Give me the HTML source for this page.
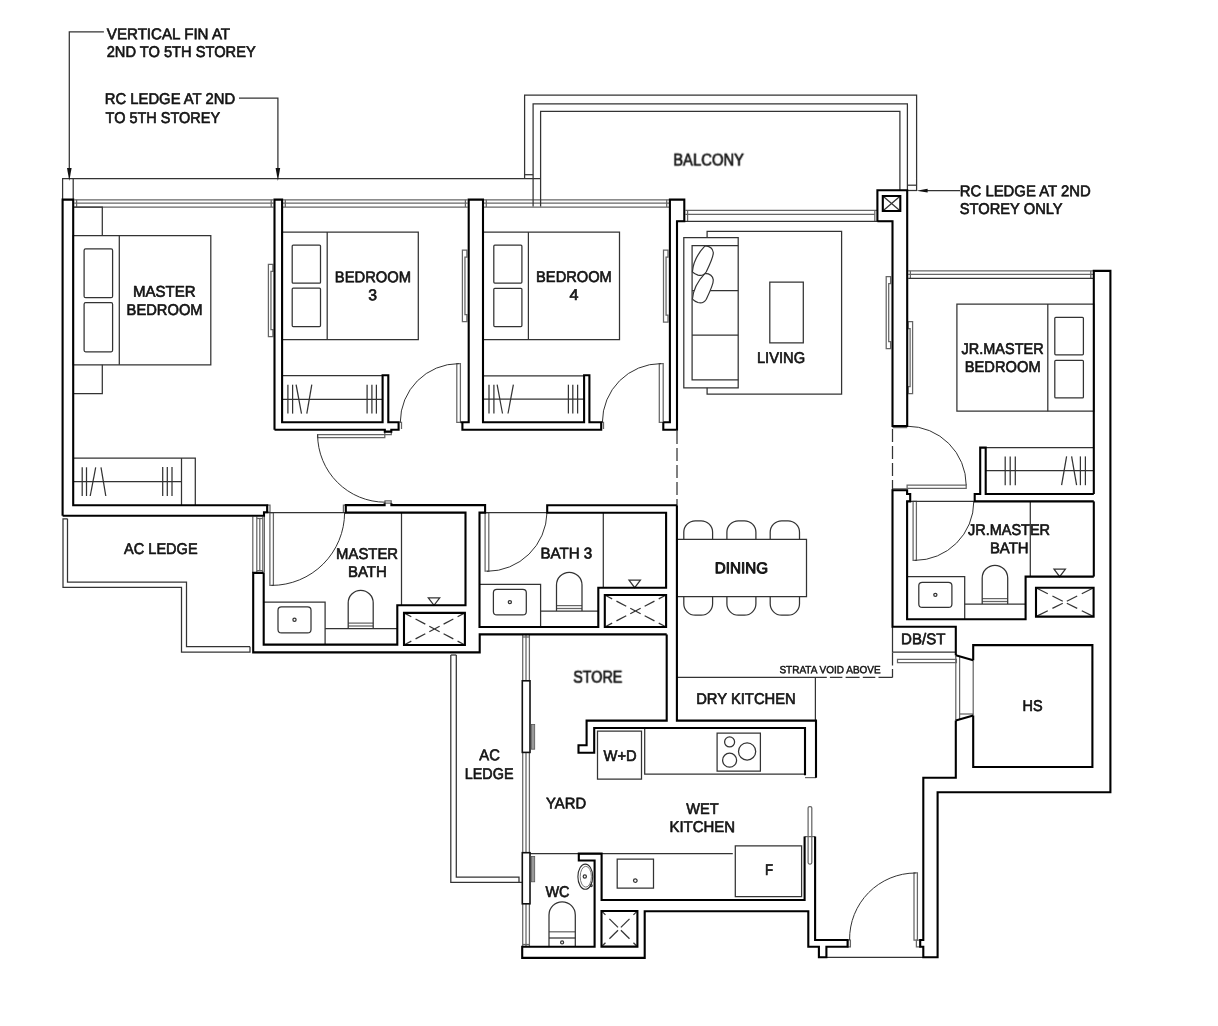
<!DOCTYPE html>
<html lang="en"><head><meta charset="utf-8"><title>Floor plan</title>
<style>html,body{margin:0;padding:0;background:#fff}svg{display:block}text{font-family:"Liberation Sans",sans-serif;font-weight:normal;fill:#141414;stroke:#141414;stroke-width:0.68px;stroke-linejoin:round}</style></head><body>
<svg width="1218" height="1026" viewBox="0 0 1218 1026">
<rect width="1218" height="1026" fill="#fff"/>
<g fill="none" stroke="#666" stroke-width="1.25">
<path d="M267.2,505.2H270V512.2H267.2Z"/>
<path d="M74.3,199.8H273.5"/>
<path d="M74.3,203.2H273.5"/>
<path d="M74.3,207H273.5"/>
<path d="M76.6,199.8V207"/>
<path d="M271.2,199.8V207"/>
<path d="M283,199.8H467.7"/>
<path d="M283,203.2H467.7"/>
<path d="M283,207H467.7"/>
<path d="M285.3,199.8V207"/>
<path d="M465.4,199.8V207"/>
<path d="M484,199.8H669"/>
<path d="M484,203.2H669"/>
<path d="M484,207H669"/>
<path d="M486.3,199.8V207"/>
<path d="M666.7,199.8V207"/>
<path d="M685.4,210.3H877.4"/>
<path d="M685.4,214.4H874.8"/>
<path d="M687.6,210.3V221.3"/>
<path d="M874.8,210.3V221.3"/>
<path d="M908.2,270.9H1093"/>
<path d="M908.2,274.4H1093"/>
<path d="M910.4,270.9V278.4"/>
<path d="M1090.8,270.9V278.4"/>
<path d="M272.9,264.4H268.4V336.5H272.9V329.5H270.95V271.4H272.9Z"/>
<path d="M466.9,250.1H462.4V321.6H466.9V314.6H464.95V257.1H466.9Z"/>
<path d="M668,250H663.5V322H668V315H666.05V257H668Z"/>
<path d="M890.6,276.6H886.2V348.6H890.6V341.6H888.7V283.6H890.6Z"/>
<path d="M908.2,321.5H912.6V393.7H908.2V386.7H910.1000000000001V328.5H908.2Z"/>
<path d="M317.6,434.5H384.8V437.6H317.6Z"/>
<path d="M384.8,431.6H391.3V434.5H384.8Z"/>
<path d="M385,500.8H391.2V503.2H385Z"/>
<path d="M269.9,512.5H273.4V585.3H269.9Z"/>
<path d="M343.4,512.5V505.1H345.8"/>
<path d="M485.1,512.6H488.8V571.2H485.1Z"/>
<path d="M456.8,363.6H460.4V422.3H456.8Z"/>
<path d="M399.4,422.3H401.5V429"/>
<path d="M659.3,363.6H663.2V422.3H659.3Z"/>
<path d="M601.2,422.3H603.5V429"/>
<path d="M907.1,485.2H966.2V488.3H907.1Z"/>
<path d="M892.5,427.6H907.2"/>
<path d="M892.5,488.8H907.2"/>
<path d="M913.1,501.4H916.4V560.3H913.1Z"/>
<path d="M914,872.9H917.4V940H914Z"/>
<path d="M847.6,940H850.4V946.8H847.6Z"/>
<path d="M916.4,940H920.2V946.8H916.4Z"/>
<path d="M252.8,516.5V572.9"/>
<path d="M256.8,516.5V572.9"/>
<path d="M259.8,518.5V570.6"/>
<path d="M262.8,516.5V572.9"/>
<path d="M264.4,516V572.9"/>
<path d="M256.8,518.5H262.8"/>
<path d="M256.8,570.6H262.8"/>
<path d="M348.2,623.1H373.2"/>
<path d="M348.2,626.0H373.2"/>
<path d="M556.5,605.6H582"/>
<path d="M556.5,608.5H582"/>
<path d="M982.2,598.6H1007.7"/>
<path d="M982.2,601.5H1007.7"/>
<path d="M897.5,659.4H956.4V662.6H897.5Z"/>
<path d="M955.8,655.2V720.6"/>
<path d="M959.6,657V719"/>
<path d="M973.2,660.2V715.6"/>
<path d="M959.6,714H973.2"/>
<path d="M805,777.6H816"/>
<path d="M809.6,806.6H810.3Q811.8,806.6 811.8,808.1V862.5Q811.8,864 810.3,864H809.6Q808.1,864 808.1,862.5V808.1Q808.1,806.6 809.6,806.6Z"/>
<path d="M804.6,836.6H815.1"/>
<path d="M522.7,635V946.8"/>
<path d="M526,635V946.8"/>
<path d="M529.4,635V946.8"/>
<path d="M522.7,637H529.4"/>
<path d="M522.7,944.5H529.4"/>
<path d="M549,931.8H575.3"/>
</g>
<g fill="none" stroke="#333" stroke-width="1.25">
<path d="M103.9,31.8H69.3V170"/>
<path d="M239,98.2H277.9V170"/>
<path d="M926,190.7H960"/>
<path d="M907.2,190.5H917"/>
<path d="M62.6,199.6V178.5H540.6"/>
<path d="M73.2,178.5V199.6"/>
<path d="M524.6,178.5V95H916.6V190.2"/>
<path d="M533.1,206.5V103.8H907.4V190.2"/>
<path d="M540.6,206.5V111.3H899.9V190.2"/>
<path d="M524.6,174.7H533.1"/>
<path d="M907.4,185.2H916.6"/>
<path d="M677,221.3H892.5"/>
<path d="M908.2,278.4H1093.8"/>
<path d="M73.2,235.6H210.8V364.8H73.2Z"/>
<path d="M119.3,235.6V364.8"/>
<path d="M85.6,248.9H111.1Q112.6,248.9 112.6,250.4V296.2Q112.6,297.7 111.1,297.7H85.6Q84.1,297.7 84.1,296.2V250.4Q84.1,248.9 85.6,248.9Z"/>
<path d="M85.6,302.7H111.1Q112.6,302.7 112.6,304.2V350.3Q112.6,351.8 111.1,351.8H85.6Q84.1,351.8 84.1,350.3V304.2Q84.1,302.7 85.6,302.7Z"/>
<path d="M73.2,207H102.3V235.6"/>
<path d="M73.2,393.6H102.3V364.8"/>
<path d="M282.1,232.1H418.3V339.5H282.1Z"/>
<path d="M327.2,232.1V339.5"/>
<path d="M293.2,245.1H319.5Q320.5,245.1 320.5,246.1V282.2Q320.5,283.2 319.5,283.2H293.2Q292.2,283.2 292.2,282.2V246.1Q292.2,245.1 293.2,245.1Z"/>
<path d="M293.2,288.2H319.5Q320.5,288.2 320.5,289.2V325.5Q320.5,326.5 319.5,326.5H293.2Q292.2,326.5 292.2,325.5V289.2Q292.2,288.2 293.2,288.2Z"/>
<path d="M483,232.1H619.5V339.5H483Z"/>
<path d="M528.4,232.1V339.5"/>
<path d="M494.8,245.2H520.9Q521.9,245.2 521.9,246.2V282Q521.9,283 520.9,283H494.8Q493.8,283 493.8,282V246.2Q493.8,245.2 494.8,245.2Z"/>
<path d="M494.8,288.3H520.9Q521.9,288.3 521.9,289.3V325.5Q521.9,326.5 520.9,326.5H494.8Q493.8,326.5 493.8,325.5V289.3Q493.8,288.3 494.8,288.3Z"/>
<path d="M956.9,304H1093.8V411.2H956.9Z"/>
<path d="M1047.8,304V411.2"/>
<path d="M1055.8,317.3H1082.4Q1083.4,317.3 1083.4,318.3V353.8Q1083.4,354.8 1082.4,354.8H1055.8Q1054.8,354.8 1054.8,353.8V318.3Q1054.8,317.3 1055.8,317.3Z"/>
<path d="M1055.8,360.3H1082.4Q1083.4,360.3 1083.4,361.3V396.9Q1083.4,397.9 1082.4,397.9H1055.8Q1054.8,397.9 1054.8,396.9V361.3Q1054.8,360.3 1055.8,360.3Z"/>
<path d="M73.2,458.1H195.3V505.2"/>
<path d="M181.5,458.1V505.2"/>
<path d="M73.2,481.6H181.5"/>
<path d="M82.2,467.3V496"/>
<path d="M86.5,467.3V496"/>
<path d="M90.2,496L95.7,467.3"/>
<path d="M101,467.3L105.8,496"/>
<path d="M162.7,467V496"/>
<path d="M167.3,467V496"/>
<path d="M172,467V496"/>
<path d="M282.1,375.7H382.6"/>
<path d="M282.1,399.3H382.6"/>
<path d="M287.9,384.7V413.6"/>
<path d="M292.6,384.7V413.6"/>
<path d="M296.1,384.7L301.5,413.6"/>
<path d="M311.8,384.7L306.8,413.6"/>
<path d="M367.1,384.7V413.6"/>
<path d="M371.9,384.7V413.6"/>
<path d="M376.4,384.7V413.6"/>
<path d="M483,375.8H584.1"/>
<path d="M483,399.1H584.1"/>
<path d="M489,384.7V413.5"/>
<path d="M493.9,384.7V413.5"/>
<path d="M497.1,384.7L502.5,413.5"/>
<path d="M513.4,384.7L508,413.5"/>
<path d="M568.4,384.7V413.5"/>
<path d="M572.8,384.7V413.5"/>
<path d="M577.6,384.7V413.5"/>
<path d="M985.7,447.6H1093.8"/>
<path d="M985.7,470.6H1093.8"/>
<path d="M1005.2,456.4V485.2"/>
<path d="M1010.2,456.4V485.2"/>
<path d="M1015.3,456.4V485.2"/>
<path d="M1061.6,485.2L1066.6,456.4"/>
<path d="M1071.6,456.4L1076.6,485.2"/>
<path d="M1080.4,456.4V485.2"/>
<path d="M1085.4,456.4V485.2"/>
<path d="M317.6,434.5A67.7,67.7 0 0 0 385.3,502.2" stroke-width="1"/>
<path d="M271.6,585.4A73,73 0 0 0 344.6,512.5" stroke-width="1"/>
<path d="M263.7,512.5H345.8"/>
<path d="M487,571.3A60,60 0 0 0 547,512.6" stroke-width="1"/>
<path d="M479.5,512.6H547.2"/>
<path d="M458.8,363.6A58.6,58.6 0 0 0 400.3,422.3" stroke-width="1"/>
<path d="M661,363.6A58.6,58.6 0 0 0 602.4,422.3" stroke-width="1"/>
<path d="M966.2,485.2A59.2,59.2 0 0 0 907.1,426.2" stroke-width="1"/>
<path d="M914.8,560.4A59,59 0 0 0 973.8,501.4" stroke-width="1"/>
<path d="M907.1,501.4H974.7"/>
<path d="M915.6,873A66,66 0 0 0 849.6,940" stroke-width="1"/>
<path d="M826.4,957.3H923.3"/>
<path d="M67.5,518.8H63V587.3H181.5V652.2H250V646.7"/>
<path d="M67.5,518.8V582H186.5V646.7H250"/>
<path d="M263.7,602H325.1V644.6"/>
<path d="M281.5,606.8H307.5Q311,606.8 311,610.3V629.4Q311,632.9 307.5,632.9H281.5Q278,632.9 278,629.4V610.3Q278,606.8 281.5,606.8Z"/>
<path d="M292.9,619.8499999999999a1.6,1.6 0 1 0 3.2,0a1.6,1.6 0 1 0 -3.2,0"/>
<path d="M479.5,584.3H540.6V627"/>
<path d="M496.9,589.3H522.8Q526.3,589.3 526.3,592.8V611.4Q526.3,614.9 522.8,614.9H496.9Q493.4,614.9 493.4,611.4V592.8Q493.4,589.3 496.9,589.3Z"/>
<path d="M508.24999999999994,602.0999999999999a1.6,1.6 0 1 0 3.2,0a1.6,1.6 0 1 0 -3.2,0"/>
<path d="M907.1,576.6H964.7V619.2"/>
<path d="M922.3,582.3H948.4Q951.9,582.3 951.9,585.8V603.9Q951.9,607.4 948.4,607.4H922.3Q918.8,607.4 918.8,603.9V585.8Q918.8,582.3 922.3,582.3Z"/>
<path d="M933.7499999999999,594.8499999999999a1.6,1.6 0 1 0 3.2,0a1.6,1.6 0 1 0 -3.2,0"/>
<path d="M348.2,628.6V602.8A12.5,12.5 0 0 1 373.2,602.8V628.6"/>
<path d="M325.1,628.6H397.3"/>
<path d="M556.5,611.1V585.05A12.75,12.75 0 0 1 582,585.05V611.1"/>
<path d="M540.6,611.1H598.3"/>
<path d="M982.2,604.1V578.05A12.75,12.75 0 0 1 1007.7,578.05V604.1"/>
<path d="M964.7,604.1H1025.6"/>
<path d="M401.5,512.6V605.3"/>
<path d="M603.3,512.7V587.7"/>
<path d="M1030.3,501.4V576.6"/>
<path d="M428.3,597.8H439.7L434,605.3Z"/>
<path d="M629,580.2H640.4L634.7,587.7Z"/>
<path d="M1054,569H1065.4L1059.7,576.6Z"/>
<path d="M434.45,628.95L429.2735,626.2215"/>
<path d="M425.315,624.135L415.57099999999997,618.999"/>
<path d="M411.308,616.752L404.9135,613.3815"/>
<path d="M434.45,628.95L439.62649999999996,626.2215"/>
<path d="M443.585,624.135L453.329,618.999"/>
<path d="M457.592,616.752L463.9865,613.3815"/>
<path d="M434.45,628.95L429.2735,631.6785"/>
<path d="M425.315,633.765L415.57099999999997,638.9010000000001"/>
<path d="M411.308,641.148L404.9135,644.5185"/>
<path d="M434.45,628.95L439.62649999999996,631.6785"/>
<path d="M443.585,633.765L453.329,638.9010000000001"/>
<path d="M457.592,641.148L463.9865,644.5185"/>
<path d="M635.45,611.0L630.2395,608.28"/>
<path d="M626.255,606.2L616.447,601.08"/>
<path d="M612.156,598.84L605.7194999999999,595.48"/>
<path d="M635.45,611.0L640.6605000000001,608.28"/>
<path d="M644.645,606.2L654.453,601.08"/>
<path d="M658.744,598.84L665.1805,595.48"/>
<path d="M635.45,611.0L630.2395,613.72"/>
<path d="M626.255,615.8L616.447,620.92"/>
<path d="M612.156,623.16L605.7194999999999,626.52"/>
<path d="M635.45,611.0L640.6605000000001,613.72"/>
<path d="M644.645,615.8L654.453,620.92"/>
<path d="M658.744,623.16L665.1805,626.52"/>
<path d="M1062.7839999999999,601.192L1052.416,596.008"/>
<path d="M1047.808,593.704L1036.864,588.232"/>
<path d="M1066.816,601.192L1077.184,596.008"/>
<path d="M1081.792,593.704L1092.7359999999999,588.232"/>
<path d="M1062.7839999999999,603.2080000000001L1052.416,608.392"/>
<path d="M1047.808,610.696L1036.864,616.168"/>
<path d="M1066.816,603.2080000000001L1077.184,608.392"/>
<path d="M1081.792,610.696L1092.7359999999999,616.168"/>
<path d="M618.014,927.376L609.398,918.832"/>
<path d="M605.449,914.9159999999999L602.3975,911.89"/>
<path d="M620.8860000000001,927.376L629.502,918.832"/>
<path d="M633.451,914.9159999999999L636.5024999999999,911.89"/>
<path d="M618.014,930.2239999999999L609.398,938.768"/>
<path d="M605.449,942.684L602.3975,945.71"/>
<path d="M620.8860000000001,930.2239999999999L629.502,938.768"/>
<path d="M633.451,942.684L636.5024999999999,945.71"/>
<path d="M882.8,196L900.3,211"/>
<path d="M900.3,196L882.8,211"/>
<path d="M707.1,237.6V231.3H841.6V394.1H707.1V387.8"/>
<path d="M683.8,237.6H738.2V387.8H683.8Z"/>
<path d="M738.2,245.6H692.1V379.8H738.2"/>
<path d="M692.1,290.7H738.2"/>
<path d="M692.1,335.2H738.2"/>
<path d="M769.8,282.1H803.3V342.8H769.8Z"/>
<path d="M676.9,539.4H806.5V596.5H676.9Z"/>
<path d="M683.8,539.4V532.3A11.5,11.5 0 0 1 695.3,520.8H701.1A11.5,11.5 0 0 1 712.6,532.3V539.4"/>
<path d="M712.6,596.5V603.7A11.5,11.5 0 0 1 701.1,615.2H695.3A11.5,11.5 0 0 1 683.8,603.7V596.5"/>
<path d="M726.9,539.4V532.3A11.5,11.5 0 0 1 738.4,520.8H744.4A11.5,11.5 0 0 1 755.9,532.3V539.4"/>
<path d="M755.9,596.5V603.7A11.5,11.5 0 0 1 744.4,615.2H738.4A11.5,11.5 0 0 1 726.9,603.7V596.5"/>
<path d="M770.2,539.4V532.3A11.5,11.5 0 0 1 781.7,520.8H788.0A11.5,11.5 0 0 1 799.5,532.3V539.4"/>
<path d="M799.5,596.5V603.7A11.5,11.5 0 0 1 788.0,615.2H781.7A11.5,11.5 0 0 1 770.2,603.7V596.5"/>
<path d="M676.9,677.4H826.8"/>
<path d="M815.4,677.4V720.6"/>
<path d="M892.5,626.8V652.2H955.8"/>
<path d="M597.5,731.2H641.5V779H597.5Z"/>
<path d="M644.7,728V774H805"/>
<path d="M717.1,733.2H760.4V771H717.1Z"/>
<path d="M724.6,741.9a5,5 0 1 0 10,0a5,5 0 1 0 -10,0"/>
<path d="M738.5,751.4a8.6,8.6 0 1 0 17.2,0a8.6,8.6 0 1 0 -17.2,0"/>
<path d="M722.6,760.2a7,7 0 1 0 14,0a7,7 0 1 0 -14,0"/>
<path d="M529.4,853.6H732.8"/>
<path d="M735.3,845.9H801.6V896.7H735.3Z"/>
<path d="M617.2,859.2H653.5V888.2H617.2Z"/>
<path d="M633.5,880.6a1.8,1.8 0 1 0 3.6,0a1.8,1.8 0 1 0 -3.6,0"/>
<path d="M450.8,655H456.3"/>
<path d="M450.8,655V882.4H522.7"/>
<path d="M456.3,655V877.2H519V882.4"/>
<path d="M583.1999999999999,876.4a1.6,1.6 0 1 0 3.2,0a1.6,1.6 0 1 0 -3.2,0"/>
<path d="M590.2,885.5a1,1 0 1 0 2,0a1,1 0 1 0 -2,0"/>
<path d="M549,946.8V914.9A13.15,13.15 0 0 1 575.3,914.9V946.8"/>
<path d="M549,938H575.3"/>
<path d="M560.6,942.4a1.5,1.5 0 1 0 3.0,0a1.5,1.5 0 1 0 -3.0,0"/>
<path d="M677,431V505" stroke-dasharray="13 4"/>
<path d="M892.5,429V490" stroke-dasharray="13 4"/>
<path d="M892.5,677.4H828" stroke-dasharray="14 3.2 12.5 3.2"/>
<path d="M892.5,677.4V652.8" stroke-dasharray="8.5 3.5 13 3"/>
</g>
<g><path d="M69.3,181L67,168H71.6Z" fill="#111"/><path d="M277.9,181L275.6,168H280.2Z" fill="#111"/><path d="M916.4,190.7L927.6,188.8V192.6Z" fill="#111"/><path d="M705,245.9Q712.5,246.3 713.3,252.5Q713.6,256.5 706.3,271.8Q703.3,276.6 698,275.1Q694.5,274 692.4,271.8Q693.5,258 705,245.9Z" transform="translate(0 27.4)" fill="#fff" stroke="#333" stroke-width="1.2"/><path d="M705,245.9Q712.5,246.3 713.3,252.5Q713.6,256.5 706.3,271.8Q703.3,276.6 698,275.1Q694.5,274 692.4,271.8Q693.5,258 705,245.9Z" fill="#fff" stroke="#333" stroke-width="1.2"/><rect x="522.3" y="680.8" width="7.7" height="71.6" fill="#fff" stroke="#111" stroke-width="1.6"/><rect x="522.3" y="852.7" width="7.7" height="51.1" fill="#fff" stroke="#111" stroke-width="1.6"/><rect x="531.3" y="724.4" width="3.4" height="24.8" fill="#999" stroke="#555" stroke-width="0.8"/><rect x="531.3" y="856.4" width="3.4" height="25.4" fill="#999" stroke="#555" stroke-width="0.8"/><ellipse cx="585.3" cy="876.7" rx="7.4" ry="12.6" fill="none" stroke="#2b2b2b" stroke-width="1.1"/><ellipse cx="585.8" cy="876.7" rx="5.6" ry="10.4" fill="none" stroke="#6a6a6a" stroke-width="0.9"/></g>
<g fill="none" stroke="#000" stroke-width="2.1" stroke-linejoin="miter">
<path d="M62.6,515.7V199.6H73.2V505.2H267.2V512.2H264V515.7H62.6"/>
<path d="M274.5,429.7V199.6H282.1V422.3H382.6V375.2H388.3V422.3H398.6V429.7H391.3V431.6H384.8V429.7H274.5"/>
<path d="M460.5,422.3H468.7V199.6H483V422.3H584.1V375.2H589.4V422.3H601.2V429.7H462.4V422.3"/>
<path d="M663.3,422.3H669.9V199.6H684.3V221.3H677V429.7H663.3V422.3"/>
<path d="M877.4,221.2V190.2H907.2V426H892.5V221.2H877.4"/>
<path d="M882.8,196H900.3V211H882.8Z"/>
<path d="M1093.8,501.4V576.6"/>
<path d="M1093.8,494V270.9H1110.4V792.2H937.6V957.3H923.3V946.8H920.2V940H923.3V777.8H955.8V720.6"/>
<path d="M955.8,655.2V626.8H892.5V490.2H907.1V494H910.2V501.4H907.1V619.2H1025.6V576.6H1093.8"/>
<path d="M1093.8,494H985.7V447.6H980.2V494H974.7V501.4H1093.8"/>
<path d="M1036,587.8H1093.6V616.6H1036Z"/>
<path d="M973.2,660.2V645.1H1092.4V767H973.2V715.6"/>
<path d="M955.8,655.2L973.2,660.2"/>
<path d="M955.8,720.6L973.2,715.6"/>
<path d="M815.1,836.6V940H847.6V946.8H826.4V957.3H818.9V946.8H808.3V911.2H644.7V957.9H522.2V946.8H594.6V860.5H578.8V853.6H601.6V900H804.6V836.6"/>
<path d="M601.5,911H637.4V946.6H601.5Z"/>
<path d="M666.7,634.4V720.6H586.6V745.2H578.5V752.7H594.2V728H805V775.2"/>
<path d="M676.9,505.2V720.6H816V777.7"/>
<path d="M263.7,572.9H253.2V652.4H479.7V634.4H666.7"/>
<path d="M263.7,572.9V644.6H397.3V605.3H465.5V512.6H345.8V505.1H384.6V503.2M391.4,503.2V505.1H485.1V512.6H479.5V627H598.3V587.7H666.1V512.7H547.2V505.2H676.9"/>
<path d="M404,612.9H464.9V645H404Z"/>
<path d="M604.8,595H666.1V627H604.8Z"/>
</g>
<g opacity="0.999">
<text transform="translate(106.8 39.3) rotate(0.03) scale(1 0.975)" font-size="16" textLength="123.3" lengthAdjust="spacingAndGlyphs">VERTICAL FIN AT</text>
<text transform="translate(106.7 57.3) rotate(0.03) scale(1 0.975)" font-size="16" textLength="149.0" lengthAdjust="spacingAndGlyphs">2ND TO 5TH STOREY</text>
<text transform="translate(104.8 104) rotate(0.03) scale(1 0.975)" font-size="16" textLength="130.3" lengthAdjust="spacingAndGlyphs">RC LEDGE AT 2ND</text>
<text transform="translate(105.6 122.5) rotate(0.03) scale(1 0.975)" font-size="16" textLength="114.5" lengthAdjust="spacingAndGlyphs">TO 5TH STOREY</text>
<text transform="translate(132.9 296.7) rotate(0.03) scale(1 0.975)" font-size="16" textLength="62.7" lengthAdjust="spacingAndGlyphs">MASTER</text>
<text transform="translate(126.6 314.7) rotate(0.03) scale(1 0.975)" font-size="16" textLength="76.0" lengthAdjust="spacingAndGlyphs">BEDROOM</text>
<text transform="translate(334.8 282.2) rotate(0.03) scale(1 0.975)" font-size="16" textLength="76.3" lengthAdjust="spacingAndGlyphs">BEDROOM</text>
<text transform="translate(368.3 300.2) rotate(0.03) scale(1 0.975)" font-size="16" textLength="8.8" lengthAdjust="spacingAndGlyphs">3</text>
<text transform="translate(536.1 282.4) rotate(0.03) scale(1 0.975)" font-size="16" textLength="75.7" lengthAdjust="spacingAndGlyphs">BEDROOM</text>
<text transform="translate(569.5 299.9) rotate(0.03) scale(1 0.975)" font-size="16" textLength="9.0" lengthAdjust="spacingAndGlyphs">4</text>
<text transform="translate(673.3 165.2) rotate(0.03) scale(1 0.975)" font-size="16" textLength="70.7" lengthAdjust="spacingAndGlyphs">BALCONY</text>
<text transform="translate(959.8 196.3) rotate(0.03) scale(1 0.975)" font-size="16" textLength="130.9" lengthAdjust="spacingAndGlyphs">RC LEDGE AT 2ND</text>
<text transform="translate(959.8 214.3) rotate(0.03) scale(1 0.975)" font-size="16" textLength="102.8" lengthAdjust="spacingAndGlyphs">STOREY ONLY</text>
<text transform="translate(756.9 362.8) rotate(0.03) scale(1 0.975)" font-size="16" textLength="48.2" lengthAdjust="spacingAndGlyphs">LIVING</text>
<text transform="translate(961.6 353.6) rotate(0.03) scale(1 0.975)" font-size="16" textLength="82.0" lengthAdjust="spacingAndGlyphs">JR.MASTER</text>
<text transform="translate(964.8 371.6) rotate(0.03) scale(1 0.975)" font-size="16" textLength="75.8" lengthAdjust="spacingAndGlyphs">BEDROOM</text>
<text transform="translate(124.1 554) rotate(0.03) scale(1 0.975)" font-size="16" textLength="73.5" lengthAdjust="spacingAndGlyphs">AC LEDGE</text>
<text transform="translate(336.1 559) rotate(0.03) scale(1 0.975)" font-size="16" textLength="62.0" lengthAdjust="spacingAndGlyphs">MASTER</text>
<text transform="translate(347.9 577) rotate(0.03) scale(1 0.975)" font-size="16" textLength="38.9" lengthAdjust="spacingAndGlyphs">BATH</text>
<text transform="translate(540.4 558.5) rotate(0.03) scale(1 0.975)" font-size="16" textLength="51.9" lengthAdjust="spacingAndGlyphs">BATH 3</text>
<text transform="translate(714.8 573.2) rotate(0.03) scale(1 0.975)" font-size="16" textLength="53.2" lengthAdjust="spacingAndGlyphs" style="stroke-width:1px">DINING</text>
<text transform="translate(967.9 535.3) rotate(0.03) scale(1 0.975)" font-size="16" textLength="82.2" lengthAdjust="spacingAndGlyphs">JR.MASTER</text>
<text transform="translate(989.9 553.3) rotate(0.03) scale(1 0.975)" font-size="16" textLength="38.7" lengthAdjust="spacingAndGlyphs">BATH</text>
<text transform="translate(901.0 644.2) rotate(0.03) scale(1 0.975)" font-size="16" textLength="44.4" lengthAdjust="spacingAndGlyphs">DB/ST</text>
<text transform="translate(1022.5 710.9) rotate(0.03) scale(1 0.975)" font-size="16" textLength="20.1" lengthAdjust="spacingAndGlyphs">HS</text>
<text transform="translate(779.4 673.3) rotate(0.03) scale(1 0.975)" font-size="10.8" textLength="101.3" lengthAdjust="spacingAndGlyphs" style="stroke-width:0.5px">STRATA VOID ABOVE</text>
<text transform="translate(696.2 704) rotate(0.03) scale(1 0.975)" font-size="16" textLength="99.5" lengthAdjust="spacingAndGlyphs">DRY KITCHEN</text>
<text transform="translate(573.3 682.3) rotate(0.03) scale(1 0.975)" font-size="16" textLength="49.0" lengthAdjust="spacingAndGlyphs">STORE</text>
<text transform="translate(479.3 760.3) rotate(0.03) scale(1 0.975)" font-size="16" textLength="20.6" lengthAdjust="spacingAndGlyphs">AC</text>
<text transform="translate(464.8 778.6) rotate(0.03) scale(1 0.975)" font-size="16" textLength="48.7" lengthAdjust="spacingAndGlyphs">LEDGE</text>
<text transform="translate(603.6 760.7) rotate(0.03) scale(1 0.975)" font-size="16" textLength="33.1" lengthAdjust="spacingAndGlyphs">W+D</text>
<text transform="translate(546.1 808.4) rotate(0.03) scale(1 0.975)" font-size="16" textLength="40.0" lengthAdjust="spacingAndGlyphs">YARD</text>
<text transform="translate(686.2 814) rotate(0.03) scale(1 0.975)" font-size="16" textLength="32.4" lengthAdjust="spacingAndGlyphs">WET</text>
<text transform="translate(669.4 832.1) rotate(0.03) scale(1 0.975)" font-size="16" textLength="65.7" lengthAdjust="spacingAndGlyphs">KITCHEN</text>
<text transform="translate(764.9 875.4) rotate(0.03) scale(1 0.975)" font-size="16" textLength="8.1" lengthAdjust="spacingAndGlyphs">F</text>
<text transform="translate(545.4 897) rotate(0.03) scale(1 0.975)" font-size="16" textLength="24.1" lengthAdjust="spacingAndGlyphs">WC</text>
</g></svg></body></html>
